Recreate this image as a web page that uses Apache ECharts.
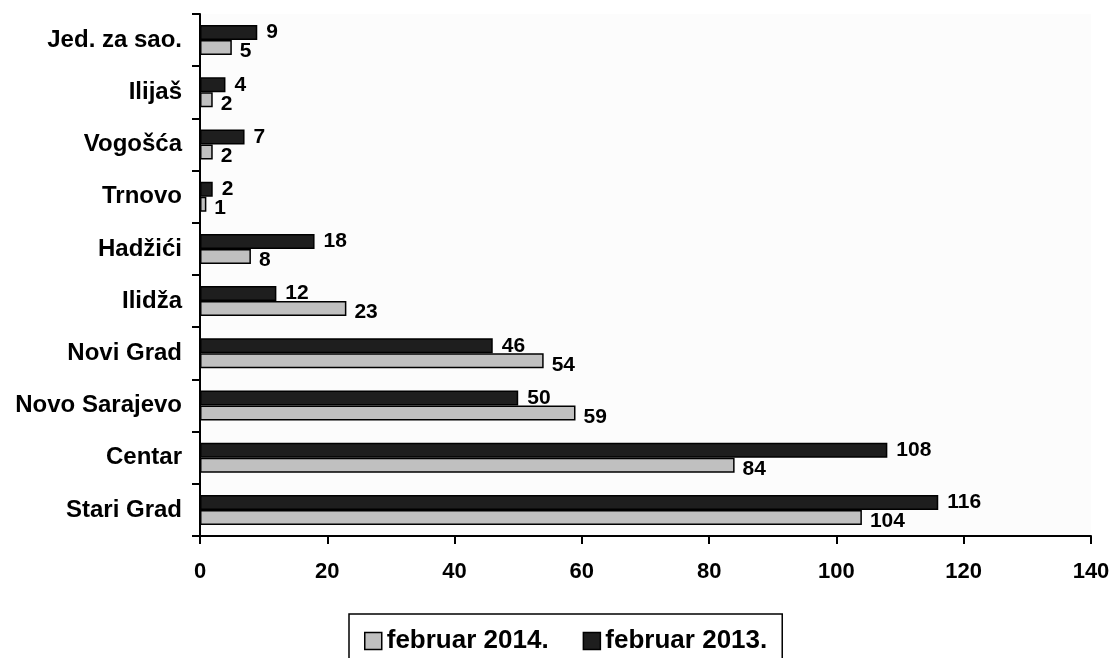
<!DOCTYPE html>
<html><head><meta charset="utf-8">
<script src="https://cdn.jsdelivr.net/npm/echarts@6/dist/echarts.min.js"></script>
<style>html,body{margin:0;padding:0;background:#fff}#c{width:1113px;height:658px}</style>
</head><body><div id="c"></div>
<script>
const categories = ['Stari Grad','Centar','Novo Sarajevo','Novi Grad','Ilidža','Hadžići','Trnovo','Vogošća','Ilijaš','Jed. za sao.'];
const feb2014 = [104, 84, 59, 54, 23, 8, 1, 2, 2, 5];
const feb2013 = [116, 108, 50, 46, 12, 18, 2, 7, 4, 9];
const xTicks = [0, 20, 40, 60, 80, 100, 120, 140];

const font = 'Liberation Sans, Arial, sans-serif';
const chart = echarts.init(document.getElementById('c'));
chart.setOption({
  animation: false,
  backgroundColor: '#fff',
  grid: { left: 200, right: 22, top: 14, bottom: 122, containLabel: false,
    show: true, backgroundColor: '#fcfcfc', borderWidth: 0 },
  legend: {
    data: ['februar 2014.', 'februar 2013.'],
    left: 349, top: 614,
    padding: [14, 15, 30, 15],
    borderColor: '#000', borderWidth: 1.5,
    icon: 'rect',
    itemWidth: 17, itemHeight: 17, itemGap: 34,
    itemStyle: { borderColor: '#000', borderWidth: 1.5 },
    textStyle: { fontFamily: font, fontWeight: 'bold', fontSize: 26, color: '#000' }
  },
  xAxis: {
    type: 'value', min: xTicks[0], max: xTicks[xTicks.length-1], interval: 20,
    axisLine: { show: true, lineStyle: { color: '#000', width: 2 } },
    axisTick: { show: true, length: 8, lineStyle: { color: '#000', width: 2 } },
    axisLabel: { margin: 25, fontFamily: font, fontWeight: 'bold', fontSize: 22, color: '#000' },
    splitLine: { show: false }
  },
  yAxis: {
    type: 'category', data: categories,
    axisLine: { show: true, lineStyle: { color: '#000', width: 2 } },
    axisTick: { show: true, length: 8, alignWithLabel: false, lineStyle: { color: '#000', width: 2 } },
    axisLabel: { margin: 18, fontFamily: font, fontWeight: 'bold', fontSize: 24, color: '#000' }
  },
  series: [
    {
      name: 'februar 2013.', type: 'bar', data: feb2013, barWidth: 15, barGap: '0%',
      itemStyle: { color: '#1e1e1e', borderColor: '#000', borderWidth: 1.5 },
      label: { show: true, position: 'right', distance: 9, offset: [0, 0],
        fontFamily: font, fontWeight: 'bold', fontSize: 21, color: '#000' }
    },
    {
      name: 'februar 2014.', type: 'bar', data: feb2014, barWidth: 15, barGap: '0%',
      itemStyle: { color: '#c0c0c0', borderColor: '#000', borderWidth: 1.5 },
      label: { show: true, position: 'right', distance: 8, offset: [0, 4],
        fontFamily: font, fontWeight: 'bold', fontSize: 21, color: '#000' }
    }
  ]
});
</script></body></html>
